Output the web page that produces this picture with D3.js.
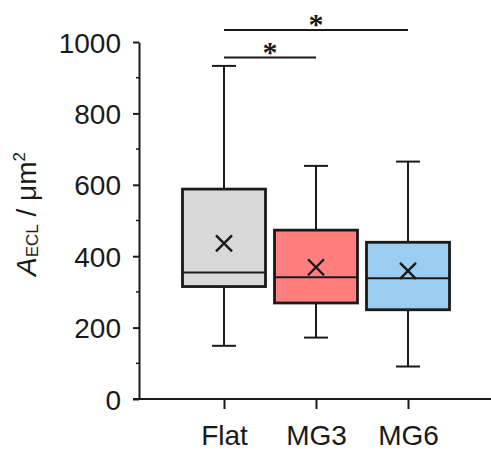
<!DOCTYPE html>
<html>
<head>
<meta charset="utf-8">
<script src="https://cdn.jsdelivr.net/npm/d3@7"></script>
<style>
  html, body { margin: 0; padding: 0; background: #fff; }
  svg { display: block; }
  text { font-family: "Liberation Sans", Arial, sans-serif; fill: #1a1a1a; }
</style>
</head>
<body>
<svg id="chart" width="491" height="450"></svg>
<script>
// Groups and their box-plot statistics (area in µm²)
const categories = ["Flat", "MG3", "MG6"];
const whiskerLow  = [149, 172, 91];
const q1          = [315, 269, 250];
const medians     = [354, 341, 338];
const q3          = [588, 473, 439];
const whiskerHigh = [933, 653, 665];
const means       = [436, 369, 359];
const fills       = ["#d9d9d9", "#ff7f7f", "#9bcdf2"];

const majorTicks = [0, 200, 400, 600, 800, 1000];
const minorTicks = [100, 300, 500, 700, 900];

// Significance brackets between groups
const brackets = [
  { from: "Flat", to: "MG3", level: 0, label: "*" },
  { from: "Flat", to: "MG6", level: 1, label: "*" }
];

const svg = d3.select("#chart");
const plotLeft = 139, plotRight = 491, plotTop = 42, plotBottom = 399;
const boxW = 83, capW = 24;

const y = d3.scaleLinear().domain([0, 1000]).range([plotBottom, plotTop]);
const x = d3.scalePoint().domain(categories).range([224, 408]);

const data = categories.map((c, i) => ({
  c, lo: whiskerLow[i], q1: q1[i], med: medians[i], q3: q3[i],
  hi: whiskerHigh[i], mean: means[i], fill: fills[i]
}));

// Whiskers
const g = svg.append("g");
data.forEach(d => {
  const cx = x(d.c);
  g.append("line").attr("x1", cx).attr("x2", cx).attr("y1", y(d.hi)).attr("y2", y(d.lo))
    .attr("stroke", "#1a1a1a").attr("stroke-width", 2);
  [d.hi, d.lo].forEach(v => {
    g.append("line").attr("x1", cx - capW / 2).attr("x2", cx + capW / 2)
      .attr("y1", y(v)).attr("y2", y(v))
      .attr("stroke", "#1a1a1a").attr("stroke-width", 2);
  });
});

// Boxes
data.forEach(d => {
  const cx = x(d.c);
  g.append("rect").attr("x", cx - boxW / 2).attr("y", y(d.q3))
    .attr("width", boxW).attr("height", y(d.q1) - y(d.q3))
    .attr("fill", d.fill).attr("stroke", "#1a1a1a").attr("stroke-width", 2.8);
  g.append("line").attr("x1", cx - boxW / 2).attr("x2", cx + boxW / 2)
    .attr("y1", y(d.med)).attr("y2", y(d.med))
    .attr("stroke", "#1a1a1a").attr("stroke-width", 2);
  // mean marker
  const s = 8, my = y(d.mean);
  g.append("path")
    .attr("d", `M${cx - s},${my - s}L${cx + s},${my + s}M${cx - s},${my + s}L${cx + s},${my - s}`)
    .attr("stroke", "#1a1a1a").attr("stroke-width", 2.4).attr("fill", "none");
});

// Y axis
const yAxis = svg.append("g").attr("transform", `translate(${plotLeft},0)`)
  .call(d3.axisLeft(y).tickValues(majorTicks).tickFormat(d3.format("d"))
    .tickSize(6).tickSizeOuter(0).tickPadding(12));
yAxis.select(".domain").attr("stroke", "#1a1a1a").attr("stroke-width", 2);
yAxis.selectAll(".tick line").attr("stroke", "#1a1a1a").attr("stroke-width", 2);
yAxis.selectAll(".tick text").attr("font-size", 28).attr("dy", "0.36em");
yAxis.selectAll(".minor").data(minorTicks).enter().append("line")
  .attr("class", "minor").attr("x1", -3).attr("x2", 0)
  .attr("y1", d => y(d)).attr("y2", d => y(d))
  .attr("stroke", "#1a1a1a").attr("stroke-width", 1.5);

// X axis
const xAxis = svg.append("g").attr("transform", `translate(0,${plotBottom})`)
  .call(d3.axisBottom(x).tickSize(10).tickSizeOuter(0).tickPadding(16));
xAxis.select(".domain").remove();
xAxis.selectAll(".tick line").attr("stroke", "#1a1a1a").attr("stroke-width", 2);
xAxis.selectAll(".tick text").attr("font-size", 28);
xAxis.append("line").attr("x1", plotLeft - 6).attr("x2", plotRight).attr("y1", 0).attr("y2", 0)
  .attr("stroke", "#1a1a1a").attr("stroke-width", 2);

// Y-axis title
const title = svg.append("text")
  .attr("transform", `translate(36,214) rotate(-90)`)
  .attr("text-anchor", "middle").attr("font-size", 28);
title.append("tspan").attr("font-style", "italic").text("A");
title.append("tspan").attr("font-size", 17).attr("dy", 2).text("ECL");
title.append("tspan").attr("dy", -2).text(" / μm");
title.append("tspan").attr("font-size", 17).attr("dy", -11).text("2");

// Significance brackets
const bracketY = [57.5, 30];
brackets.forEach(b => {
  const x1 = x(b.from), x2 = x(b.to), by = bracketY[b.level];
  svg.append("line").attr("x1", x1).attr("x2", x2).attr("y1", by).attr("y2", by)
    .attr("stroke", "#1a1a1a").attr("stroke-width", 2);
  svg.append("text").attr("x", (x1 + x2) / 2).attr("y", by + 4)
    .attr("text-anchor", "middle").attr("font-size", 30).attr("font-weight", "bold")
    .style("font-family", "'Liberation Serif', serif").text(b.label);
});
</script>
</body>
</html>
